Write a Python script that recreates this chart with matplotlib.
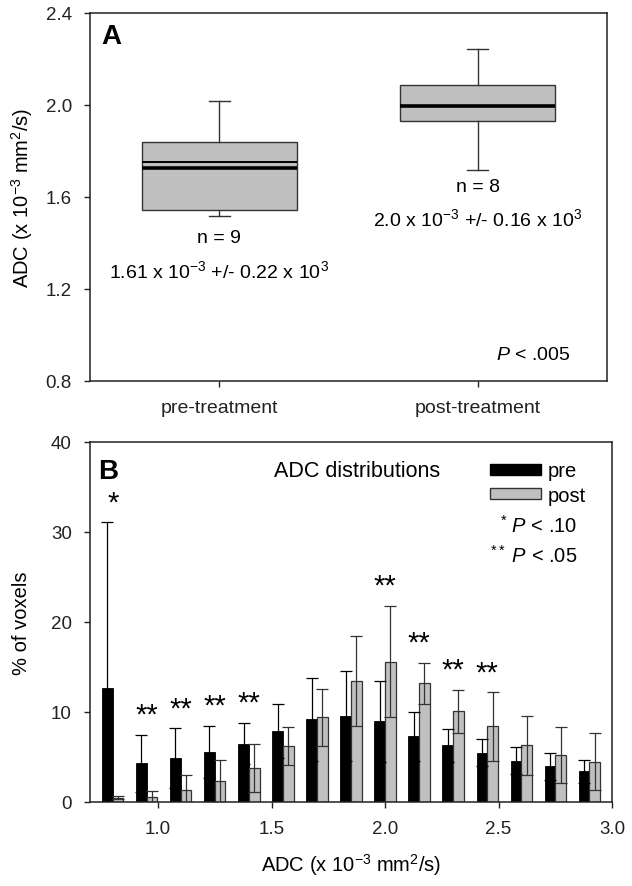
import matplotlib
matplotlib.use('Agg')
from matplotlib import pyplot as plt
from matplotlib.patches import Patch

plt.rcParams['font.family'] = ['Liberation Sans', 'DejaVu Sans']
plt.rcParams['mathtext.fontset'] = 'custom'
plt.rcParams['mathtext.rm'] = 'Liberation Sans'
plt.rcParams['mathtext.it'] = 'Liberation Sans:italic'
plt.rcParams['mathtext.bf'] = 'Liberation Sans:bold'

# panel A: box plot stats (ADC x 10^-3 mm^2/s)
groups = ['pre-treatment', 'post-treatment']
q1 = [1.545, 1.929]
q3 = [1.840, 2.086]
med = [1.726, 1.997]
mean = [1.753, 1.997]
whislo = [1.517, 1.718]
whishi = [2.019, 2.243]
n_text = ['n = 9', 'n = 8']
mean_text = ['1.61 x 10$^{-3}$ +/- 0.22 x 10$^{3}$', '2.0 x 10$^{-3}$ +/- 0.16 x 10$^{3}$']

# panel B: ADC distributions (% of voxels)
bin_centers = [0.80, 0.95, 1.10, 1.25, 1.40, 1.55, 1.70, 1.85, 2.00, 2.15, 2.30, 2.45, 2.60, 2.75, 2.90]
pre = [12.7, 4.3, 4.9, 5.6, 6.5, 7.9, 9.2, 9.6, 9.0, 7.3, 6.3, 5.5, 4.6, 4.0, 3.4]
pre_sd = [18.4, 3.2, 3.3, 2.9, 2.3, 3.0, 4.6, 5.0, 4.5, 2.7, 1.8, 1.5, 1.5, 1.5, 1.3]
post = [0.5, 0.55, 1.3, 2.3, 3.8, 6.2, 9.4, 13.5, 15.6, 13.2, 10.1, 8.4, 6.3, 5.2, 4.5]
post_sd = [0.2, 0.7, 1.7, 2.4, 2.7, 2.1, 3.2, 5.0, 6.2, 2.3, 2.4, 3.8, 3.3, 3.1, 3.2]
sig = ['*', '**', '**', '**', '**', '', '', '', '**', '**', '**', '**', '', '', '']

gray = '#c0c0c0'
fig = plt.figure(figsize=(6.32, 8.87), dpi=100)

# ---- A ----
ax1 = fig.add_axes([90/632, 1-382/887, 517/632, 368/887])
stats = []
for i in range(2):
    stats.append(dict(q1=q1[i], q3=q3[i], med=med[i], mean=mean[i],
                      whislo=whislo[i], whishi=whishi[i], fliers=[]))
ax1.bxp(stats, positions=[1, 2], widths=0.6, patch_artist=True,
        showmeans=True, meanline=True,
        boxprops=dict(facecolor=gray, edgecolor='#333333', linewidth=1.0),
        medianprops=dict(color='black', linewidth=2.6),
        meanprops=dict(color='black', linestyle='-', linewidth=1.4),
        whiskerprops=dict(color='#333333', linewidth=1.0),
        capprops=dict(color='#333333', linewidth=1.0), capwidths=0.08)
ax1.set_xlim(0.5, 2.5)
ax1.set_ylim(0.8, 2.4)
ax1.set_yticks([0.8, 1.2, 1.6, 2.0, 2.4])
ax1.set_yticklabels(['%.1f' % v for v in [0.8, 1.2, 1.6, 2.0, 2.4]])
ax1.set_xticks([1, 2])
ax1.set_xticklabels(groups)
ax1.set_ylabel('ADC (x 10$^{-3}$ mm$^{2}$/s)', fontsize=14.5, labelpad=8)
ax1.text(1, 1.422, n_text[0], ha='center', va='center', fontsize=14)
ax1.text(1, 1.284, mean_text[0], ha='center', va='center', fontsize=14)
ax1.text(2, 1.647, n_text[1], ha='center', va='center', fontsize=14)
ax1.text(2, 1.509, mean_text[1], ha='center', va='center', fontsize=14)
ax1.text(2.36, 0.916, '$P$ < .005', ha='right', va='center', fontsize=14)
ax1.text(0.545, 2.298, 'A', fontsize=20, fontweight='bold', ha='left', va='center')

# ---- B ----
ax2 = fig.add_axes([90/632, 1-803/887, 522/632, 360/887])
w = 0.047
xpre = [c - w/2 for c in bin_centers]
xpost = [c + w/2 for c in bin_centers]
ax2.bar(xpre, pre, width=w, color='black', edgecolor='black', linewidth=0.6, zorder=2)
ax2.bar(xpost, post, width=w, color=gray, edgecolor='#333333', linewidth=0.9, zorder=2)
ax2.errorbar(xpre, pre, yerr=pre_sd, fmt='none', ecolor='black', elinewidth=0.9,
             capsize=4, capthick=0.9, zorder=3)
ax2.errorbar(xpost, post, yerr=post_sd, fmt='none', ecolor='#333333', elinewidth=0.9,
             capsize=4, capthick=0.9, zorder=3)
for i in range(len(bin_centers)):
    if sig[i]:
        top = max(pre[i] + pre_sd[i], post[i] + post_sd[i])
        ax2.text(bin_centers[i], top + 2.2, sig[i], ha='center', va='center', fontsize=21)
ax2.set_xlim(0.7, 3.0)
ax2.set_ylim(0, 40)
ax2.set_xticks([1.0, 1.5, 2.0, 2.5, 3.0])
ax2.set_xticklabels(['%.1f' % v for v in [1.0, 1.5, 2.0, 2.5, 3.0]])
ax2.set_yticks([0, 10, 20, 30, 40])
ax2.set_ylabel('% of voxels', fontsize=14.5, labelpad=14)
ax2.set_xlabel('ADC (x 10$^{-3}$ mm$^{2}$/s)', fontsize=14.5, labelpad=10)
ax2.text(0.015, 0.919, 'B', transform=ax2.transAxes, fontsize=20, fontweight='bold',
         ha='left', va='center')
ax2.text(0.512, 0.922, 'ADC distributions', transform=ax2.transAxes, fontsize=15.5,
         ha='center', va='center')
handles = [Patch(facecolor='black', edgecolor='black', label='pre'),
           Patch(facecolor=gray, edgecolor='#333333', label='post')]
ax2.legend(handles=handles, loc='upper right', bbox_to_anchor=(0.977, 0.985), frameon=False,
           fontsize=14.5, handlelength=2.5, handleheight=0.5, handletextpad=0.35,
           labelspacing=0.25, borderpad=0.2)
ax2.text(0.933, 0.77, '$^{*}$ $P$ < .10', transform=ax2.transAxes, fontsize=14.5,
         ha='right', va='center')
ax2.text(0.933, 0.687, '$^{**}$ $P$ < .05', transform=ax2.transAxes, fontsize=14.5,
         ha='right', va='center')

for ax in (ax1, ax2):
    for s in ax.spines.values():
        s.set_linewidth(1.1)
        s.set_color('#222222')
    ax.tick_params(direction='out', length=4, width=1.0, labelsize=13.5, colors='#222222')
    ax.tick_params(axis='x', pad=9)
    ax.tick_params(axis='y', pad=9)
ax1.tick_params(axis='x', labelsize=14)

fig.savefig('out.png', dpi=100)
